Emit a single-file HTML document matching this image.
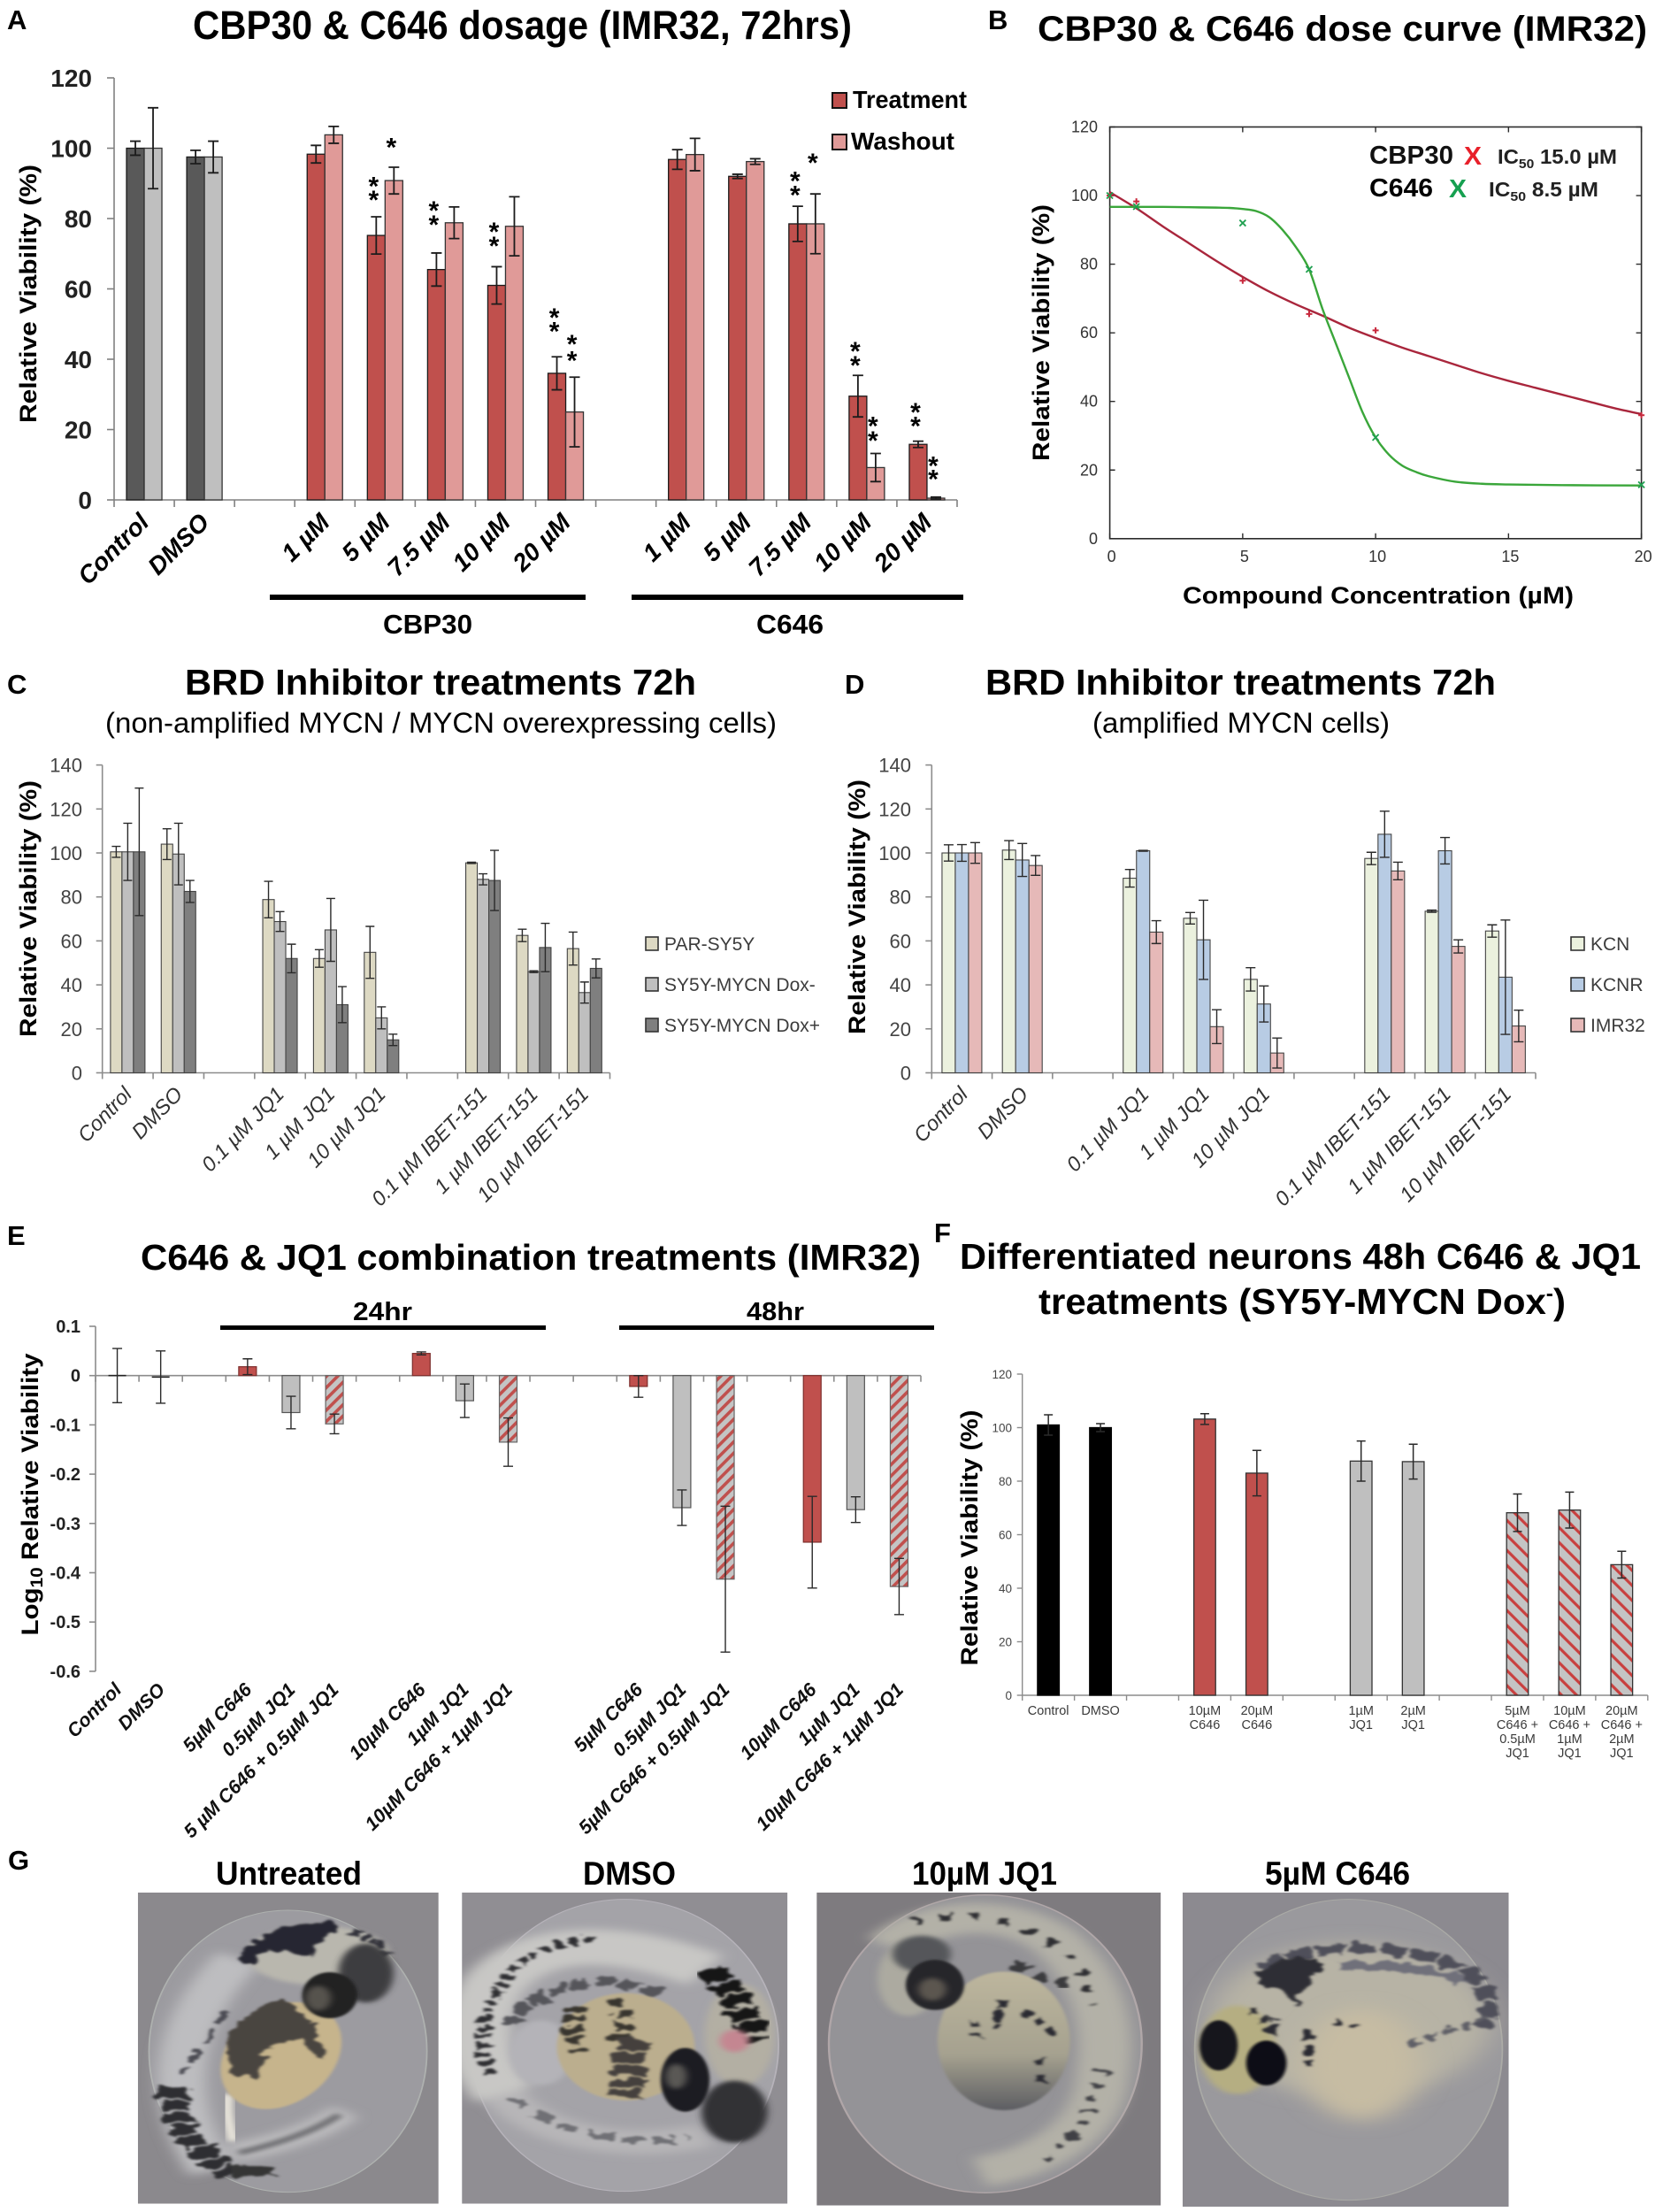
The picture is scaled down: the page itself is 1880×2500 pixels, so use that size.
<!DOCTYPE html>
<html lang="en">
<head>
<meta charset="utf-8">
<title>CBP30, C646 and JQ1 viability figure</title>
<style>
html,body{margin:0;padding:0;background:#fff;}
svg{display:block;}
text{font-family:"Liberation Sans",Arial,sans-serif;fill:#000;}
.b{font-weight:bold;}
</style>
</head>
<body>
<svg id="fig" width="1880" height="2500" viewBox="0 0 1880 2500">
<defs>
  <pattern id="hatchE" width="9" height="9" patternUnits="userSpaceOnUse" patternTransform="rotate(45)">
    <rect width="9" height="9" fill="#c4c4c4"/><rect width="3.6" height="9" fill="#c0504d"/>
  </pattern>
  <pattern id="hatchF" width="12" height="12" patternUnits="userSpaceOnUse" patternTransform="rotate(-45)">
    <rect width="12" height="12" fill="#c4c4c4"/><rect width="3.2" height="12" fill="#c9403f"/>
  </pattern>
  <filter id="b2" x="-30%" y="-30%" width="160%" height="160%"><feGaussianBlur stdDeviation="3"/></filter>
  <filter id="b5" x="-30%" y="-30%" width="160%" height="160%"><feGaussianBlur stdDeviation="7"/></filter>
  <filter id="b12" x="-40%" y="-40%" width="180%" height="180%"><feGaussianBlur stdDeviation="14"/></filter>
  <filter id="b25" x="-50%" y="-50%" width="200%" height="200%"><feGaussianBlur stdDeviation="28"/></filter>
  <filter id="org" x="-30%" y="-30%" width="160%" height="160%">
    <feTurbulence type="fractalNoise" baseFrequency="0.035" numOctaves="2" seed="4" result="n"/>
    <feDisplacementMap in="SourceGraphic" in2="n" scale="42" xChannelSelector="R" yChannelSelector="G"/>
    <feGaussianBlur stdDeviation="3"/>
  </filter>
  <clipPath id="c1"><rect x="260" y="177" width="567" height="1055"/></clipPath>
  <clipPath id="c2"><rect x="871" y="177" width="614" height="1055"/></clipPath>
  <clipPath id="c3"><rect x="-28" y="177" width="649" height="1061"/></clipPath>
  <clipPath id="c4"><rect x="662" y="177" width="615" height="1065"/></clipPath>
  <linearGradient id="yolk3" x1="0" y1="0" x2="0" y2="1"><stop offset="0" stop-color="#bdb69d"/><stop offset=".6" stop-color="#a5a18f"/><stop offset="1" stop-color="#5c5d62"/></linearGradient>
</defs>

<!-- Panel letters -->
<text class="b" x="8" y="33" font-size="31">A</text>
<text class="b" x="1117" y="33" font-size="31">B</text>
<text class="b" x="8" y="784" font-size="31">C</text>
<text class="b" x="955" y="784" font-size="31">D</text>
<text class="b" x="8" y="1407" font-size="31">E</text>
<text class="b" x="1056" y="1404" font-size="31">F</text>
<text class="b" x="9" y="2113" font-size="31">G</text>

<!-- Panel A static text -->
<text class="b" x="218" y="44" font-size="45" textLength="745" lengthAdjust="spacingAndGlyphs">CBP30 &amp; C646 dosage (IMR32, 72hrs)</text>
<text class="b" transform="translate(41,332) rotate(-90)" text-anchor="middle" font-size="27" textLength="292" lengthAdjust="spacingAndGlyphs">Relative Viability (%)</text>
<rect x="941" y="105" width="16" height="17" fill="#c0504d" stroke="#111" stroke-width="2"/>
<text class="b" x="964" y="122" font-size="28" textLength="129" lengthAdjust="spacingAndGlyphs">Treatment</text>
<rect x="941" y="152" width="16" height="17" fill="#e09a98" stroke="#111" stroke-width="2"/>
<text class="b" x="962" y="169" font-size="28" textLength="117" lengthAdjust="spacingAndGlyphs">Washout</text>
<rect x="305" y="672" width="357" height="6" fill="#000"/>
<rect x="714" y="672" width="375" height="6" fill="#000"/>
<text class="b" x="433" y="716" font-size="31" textLength="101" lengthAdjust="spacingAndGlyphs">CBP30</text>
<text class="b" x="855" y="716" font-size="31" textLength="76" lengthAdjust="spacingAndGlyphs">C646</text>

<!-- Panel B static text -->
<text class="b" x="1173" y="46" font-size="40" textLength="689" lengthAdjust="spacingAndGlyphs">CBP30 &amp; C646 dose curve (IMR32)</text>
<text class="b" transform="translate(1186,376) rotate(-90)" text-anchor="middle" font-size="27" textLength="290" lengthAdjust="spacingAndGlyphs">Relative Viability (%)</text>
<text class="b" x="1337" y="682" font-size="27" textLength="442" lengthAdjust="spacingAndGlyphs">Compound Concentration (µM)</text>
<text class="b" x="1548" y="185" font-size="29" style="fill:#111" textLength="95" lengthAdjust="spacingAndGlyphs">CBP30</text>
<text class="b" x="1655" y="186" font-size="29" style="fill:#e8202a" textLength="20" lengthAdjust="spacingAndGlyphs">X</text>
<text class="b" x="1693" y="185" font-size="23" style="fill:#222" textLength="135" lengthAdjust="spacingAndGlyphs">IC<tspan font-size="15" dy="5">50</tspan><tspan dy="-5"> 15.0 µM</tspan></text>
<text class="b" x="1548" y="222" font-size="29" textLength="72" lengthAdjust="spacingAndGlyphs">C646</text>
<text class="b" x="1638" y="223" font-size="29" style="fill:#16a050" textLength="20" lengthAdjust="spacingAndGlyphs">X</text>
<text class="b" x="1683" y="222" font-size="23" style="fill:#222" textLength="124" lengthAdjust="spacingAndGlyphs">IC<tspan font-size="15" dy="5">50</tspan><tspan dy="-5"> 8.5 µM</tspan></text>

<!-- Panel C static text -->
<text class="b" x="209" y="785" font-size="41" textLength="578" lengthAdjust="spacingAndGlyphs">BRD Inhibitor treatments 72h</text>
<text x="119" y="828" font-size="32" textLength="759" lengthAdjust="spacingAndGlyphs">(non-amplified MYCN / MYCN overexpressing cells)</text>
<text class="b" transform="translate(41,1027) rotate(-90)" text-anchor="middle" font-size="27" textLength="290" lengthAdjust="spacingAndGlyphs">Relative Viability (%)</text>

<!-- Panel D static text -->
<text class="b" x="1114" y="785" font-size="41" textLength="577" lengthAdjust="spacingAndGlyphs">BRD Inhibitor treatments 72h</text>
<text x="1235" y="828" font-size="32" textLength="336" lengthAdjust="spacingAndGlyphs">(amplified MYCN cells)</text>
<text class="b" transform="translate(978,1025) rotate(-90)" text-anchor="middle" font-size="27" textLength="288" lengthAdjust="spacingAndGlyphs">Relative Viability (%)</text>

<!-- Panel E static text -->
<text class="b" x="159" y="1435" font-size="41" textLength="882" lengthAdjust="spacingAndGlyphs">C646 &amp; JQ1 combination treatments (IMR32)</text>
<text class="b" x="399" y="1492" font-size="29" textLength="67" lengthAdjust="spacingAndGlyphs">24hr</text>
<text class="b" x="844" y="1492" font-size="29" textLength="65" lengthAdjust="spacingAndGlyphs">48hr</text>
<rect x="249" y="1498" width="368" height="5" fill="#000"/>
<rect x="700" y="1498" width="356" height="5" fill="#000"/>
<text class="b" transform="translate(43,1689) rotate(-90)" text-anchor="middle" font-size="27" textLength="319" lengthAdjust="spacingAndGlyphs">Log<tspan font-size="19" dy="5">10</tspan><tspan dy="-5"> Relative Viability</tspan></text>

<!-- Panel F static text -->
<text class="b" x="1085" y="1434" font-size="41" textLength="770" lengthAdjust="spacingAndGlyphs">Differentiated neurons 48h C646 &amp; JQ1</text>
<text class="b" x="1174" y="1485" font-size="41" textLength="596" lengthAdjust="spacingAndGlyphs">treatments (SY5Y-MYCN Dox<tspan font-size="24" dy="-15">-</tspan><tspan dy="15">)</tspan></text>
<text class="b" transform="translate(1105,1738) rotate(-90)" text-anchor="middle" font-size="27" textLength="289" lengthAdjust="spacingAndGlyphs">Relative Viability (%)</text>

<g id="charts"></g>

<!-- Panel G: embryo micrographs, approximated with blurred shapes -->
<text class="b" x="244" y="2130" font-size="37" textLength="165" lengthAdjust="spacingAndGlyphs">Untreated</text>
<text class="b" x="659" y="2130" font-size="37" textLength="105" lengthAdjust="spacingAndGlyphs">DMSO</text>
<text class="b" x="1031" y="2130" font-size="37" textLength="164" lengthAdjust="spacingAndGlyphs">10µM JQ1</text>
<text class="b" x="1430" y="2130" font-size="37" textLength="164" lengthAdjust="spacingAndGlyphs">5µM C646</text>

<g transform="translate(0,2080) scale(0.5995,0.3333)" clip-path="url(#c1)">
  <rect x="260" y="177" width="567" height="1055" fill="#8b898d"/>
  <ellipse cx="543" cy="715" rx="262" ry="478" fill="#9c9ba0" stroke="#aeb1af" stroke-width="3"/>
  <g fill="none" filter="url(#b12)">
    <path d="M450 400C340 600 300 850 400 1120" stroke="#bdbdc0" stroke-width="90"/>
    <path d="M440 1060C520 1030 600 990 650 920" stroke="#c0bfc1" stroke-width="60"/>
  </g>
  <g fill="none" filter="url(#org)">
    <path d="M430 580C390 650 370 720 350 790" stroke="#4c4c52" stroke-width="16" stroke-dasharray="46 22"/>
    <path d="M325 840C320 950 370 1060 440 1130" stroke="#2f2e30" stroke-width="56" stroke-dasharray="34 8"/>
    <path d="M440 1120L520 1120" stroke="#353436" stroke-width="40"/>
  </g>
  <path d="M450 1060C520 1030 590 990 640 930" fill="none" stroke="#6d6d71" stroke-width="18" filter="url(#b5)"/>
  <path d="M430 860C425 930 435 980 440 1020" fill="none" stroke="#eeeadf" stroke-width="20" filter="url(#b5)"/>
  <ellipse cx="600" cy="390" rx="135" ry="100" fill="#b9b7ae" filter="url(#b5)"/>
  <path d="M442 410C480 310 560 268 640 282C625 340 590 340 590 400C540 350 490 370 470 430Z" fill="#272830" filter="url(#org)"/>
  <path d="M660 310C690 320 715 350 730 390" stroke="#33333a" stroke-width="30" stroke-dasharray="22 8" fill="none" filter="url(#org)"/>
  <ellipse cx="690" cy="450" rx="52" ry="100" fill="#3c3c41" filter="url(#b5)"/>
  <ellipse cx="530" cy="730" rx="108" ry="185" transform="rotate(14 530 730)" fill="#c6b48c" filter="url(#b2)"/>
  <path d="M425 690C445 600 505 535 550 550C590 600 600 650 612 740L590 725L565 660L500 710L490 810L440 790Z" fill="#48443f" filter="url(#org)"/>
  <ellipse cx="622" cy="525" rx="52" ry="78" fill="#222224" filter="url(#b2)"/>
  <ellipse cx="600" cy="535" rx="24" ry="42" fill="#57534d" filter="url(#b5)"/>
</g>

<g transform="translate(0,2080) scale(0.5995,0.3333)" clip-path="url(#c2)">
  <rect x="871" y="177" width="614" height="1055" fill="#908e93"/>
  <ellipse cx="1178" cy="695" rx="290" ry="495" fill="#a4a3a8" stroke="#b6b3ba" stroke-width="3"/>
  <g fill="none" filter="url(#b12)">
    <path d="M1330 440C1150 320 1000 340 930 490C885 620 900 760 950 860" stroke="#c8c7c5" stroke-width="120"/>
    <path d="M950 860C1010 1000 1180 1060 1330 1000" stroke="#b7b6b8" stroke-width="80"/>
  </g>
  <ellipse cx="1020" cy="720" rx="60" ry="110" fill="#b4b3b8" filter="url(#b5)"/>
  <g fill="none" filter="url(#org)">
    <path d="M1120 335C1010 350 950 430 925 560C900 680 905 740 925 800" stroke="#2d2d31" stroke-width="24" stroke-dasharray="18 12"/>
    <path d="M1240 520C1130 440 1020 490 960 620" stroke="#55555a" stroke-width="34" stroke-dasharray="36 10"/>
    <path d="M965 870C1030 980 1170 1040 1300 1010" stroke="#707074" stroke-width="22" stroke-dasharray="44 20"/>
  </g>
  <ellipse cx="1180" cy="700" rx="130" ry="182" fill="#bbae8e" filter="url(#b2)"/>
  <g fill="none" filter="url(#org)">
    <path d="M1090 560C1070 620 1080 680 1090 720" stroke="#37342f" stroke-width="34" stroke-dasharray="24 12"/>
    <path d="M1160 540C1180 600 1190 640 1150 690" stroke="#37342f" stroke-width="30" stroke-dasharray="26 14"/>
    <path d="M1200 680C1180 740 1190 800 1180 870" stroke="#45413c" stroke-width="60" stroke-dasharray="34 8"/>
  </g>
  <ellipse cx="1395" cy="660" rx="66" ry="175" fill="#b3afa3" filter="url(#b5)"/>
  <path d="M1340 440C1385 520 1410 600 1425 680" fill="none" stroke="#131315" stroke-width="60" stroke-dasharray="38 10" filter="url(#org)"/>
  <ellipse cx="1385" cy="680" rx="28" ry="38" fill="#c48691" filter="url(#b5)"/>
  <ellipse cx="1385" cy="920" rx="62" ry="105" fill="#323235" filter="url(#b5)"/>
  <ellipse cx="1292" cy="812" rx="46" ry="108" fill="#1f1f22" filter="url(#b2)"/>
  <ellipse cx="1275" cy="800" rx="20" ry="42" fill="#5a5854" filter="url(#b5)"/>
</g>

<g transform="translate(940,2080) scale(0.5995,0.3333)" clip-path="url(#c3)">
  <rect x="-28" y="177" width="649" height="1061" fill="#7e7b7f"/>
  <ellipse cx="290" cy="690" rx="295" ry="505" fill="#949397" stroke="#b0a6a8" stroke-width="4"/>
  <path d="M110 360C200 230 340 240 420 340C510 480 525 650 510 800C505 950 430 1080 280 1125" fill="none" stroke="#b3b1a7" stroke-width="100" filter="url(#b12)"/>
  <path d="M150 280C240 230 340 260 420 350C480 440 490 520 490 560" fill="none" stroke="#2e2e33" stroke-width="26" stroke-dasharray="18 40" filter="url(#org)"/>
  <path d="M345 420C400 470 430 500 440 470" fill="none" stroke="#3a3a3e" stroke-width="28" stroke-dasharray="30 20" filter="url(#org)"/>
  <path d="M510 780C490 900 470 1010 400 1080" fill="none" stroke="#3f3f44" stroke-width="22" stroke-dasharray="16 28" filter="url(#org)"/>
  <ellipse cx="145" cy="470" rx="58" ry="125" fill="#acaaa0" filter="url(#b5)"/>
  <ellipse cx="170" cy="385" rx="55" ry="62" fill="#55565a" filter="url(#b5)"/>
  <ellipse cx="325" cy="680" rx="125" ry="235" fill="url(#yolk3)" filter="url(#b2)"/>
  <g fill="none" stroke="#2b2b30" stroke-width="18" filter="url(#org)">
    <path d="M320 540L310 650" stroke-dasharray="30 8"/>
    <path d="M360 580L420 650" stroke-dasharray="22 14"/>
    <path d="M270 610L270 700" stroke-dasharray="16 30"/>
    <path d="M390 740L400 830" stroke-dasharray="24 30"/>
  </g>
  <ellipse cx="195" cy="490" rx="55" ry="85" fill="#28282a" filter="url(#b2)"/>
  <ellipse cx="190" cy="505" rx="26" ry="38" fill="#5c5750" filter="url(#b5)"/>
</g>

<g transform="translate(940,2080) scale(0.5995,0.3333)" clip-path="url(#c4)">
  <rect x="662" y="177" width="615" height="1065" fill="#8c8a90"/>
  <ellipse cx="975" cy="710" rx="290" ry="510" fill="#9a999d" stroke="#aaaaa6" stroke-width="3"/>
  <ellipse cx="980" cy="610" rx="265" ry="260" fill="#b7b3a5" filter="url(#b25)"/>
  <ellipse cx="1000" cy="760" rx="110" ry="190" fill="#c6bca3" filter="url(#b25)"/>
  <g fill="none" filter="url(#org)">
    <path d="M810 430C900 350 1050 340 1190 430C1240 500 1250 590 1230 640" stroke="#50505a" stroke-width="34" stroke-dasharray="50 10"/>
    <path d="M960 430C1040 420 1130 430 1190 480" stroke="#6f6f7a" stroke-width="28"/>
    <path d="M1240 600C1180 640 1130 660 1080 700" stroke="#5f5f66" stroke-width="18" stroke-dasharray="24 14"/>
  </g>
  <path d="M800 450C850 390 910 380 930 420C900 480 880 520 880 560C860 520 830 490 800 480Z" fill="#2d2d36" filter="url(#org)"/>
  <ellipse cx="765" cy="710" rx="72" ry="150" fill="#b5ae82" filter="url(#b5)"/>
  <g fill="none" stroke="#2a2a30" stroke-width="18" filter="url(#org)">
    <path d="M790 570L830 640L830 600" stroke-dasharray="18 20"/>
    <path d="M900 640L900 770" stroke-dasharray="40 12"/>
    <path d="M950 610L1000 640" stroke-dasharray="12 26"/>
  </g>
  <ellipse cx="730" cy="695" rx="36" ry="85" fill="#18181a" filter="url(#b2)"/>
  <ellipse cx="820" cy="755" rx="38" ry="76" fill="#111113" filter="url(#b2)"/>
</g>

<script>
const NS = document.getElementById('fig').namespaceURI;
const charts = document.getElementById('charts');

/* ---------- Panel A data ---------- */
const aCategories = ['Control','DMSO','','1 µM','5 µM','7.5 µM','10 µM','20 µM','','1 µM','5 µM','7.5 µM','10 µM','20 µM'];
const aTreatment = [100,97.5,null,98.3,75.2,65.5,61,36,null,96.8,92,78.5,29.5,15.8];
const aTreatmentErr = [2,1.9,null,2.5,5.3,4.7,5.3,4.7,null,2.8,0.6,5,5.9,0.9];
const aWashout = [100,97.5,null,103.8,90.8,78.8,77.8,25,null,98.2,96.2,78.5,9.2,0.5];
const aWashoutErr = [11.5,4.5,null,2.4,3.8,4.5,8.4,9.9,null,4.6,0.8,8.5,4,0.3];
const aTicks = [0,20,40,60,80,100,120];
/* star markers: category index, series index, height in axis units */
const aStars = [[4,0,91],[4,0,87],[4,1,102],[5,0,84],[5,0,80],[6,0,78],[6,0,74],[7,0,53.6],[7,0,49.7],[7,1,46],[7,1,41.4],[11,0,92.5],[11,0,88.4],[11,1,97.6],[12,0,44],[12,0,40],[12,1,22.8],[12,1,18.6],[13,0,26.7],[13,0,22.8],[13,1,11.5],[13,1,7.7]];

/* ---------- Panel B data ---------- */
const bTicksX = [0,5,10,15,20];
const bTicksY = [0,20,40,60,80,100,120];
const bCbpCurveX = [0,1,2,3,4,5,6,7,8,9,10,11,12,13,14,15,16,17,18,19,20];
const bCbpCurveY = [101,96.3,91,86,81,76.3,72,68.3,65,61.5,58.5,55.7,53.2,50.7,48.2,46,44,42,40,38,36.3];
const bC646CurveX = [0,1,2,3,4,4.5,5,5.5,6,6.5,7,7.5,8,8.5,9,9.5,10,10.5,11,11.5,12,13,14,15,17,20];
const bC646CurveY = [96.7,96.7,96.7,96.6,96.5,96.4,96.1,95.5,93.7,90,85,78.5,67,57,47,37,29.5,24.5,21.3,19.5,18.2,16.6,16,15.8,15.6,15.5];
const bCbpDoseX = [0,1,5,7.5,10,20];
const bCbpDoseY = [100,98.3,75.2,65.5,60.7,36];
const bC646DoseX = [0,1,5,7.5,10,20];
const bC646DoseY = [100,96.8,92,78.5,29.5,15.7];

/* ---------- Panel C data ---------- */
const cCategories = ['Control','DMSO','','0.1 µM JQ1','1 µM JQ1','10 µM JQ1','','0.1 µM IBET-151','1 µM IBET-151','10 µM IBET-151'];
const cPar = [100.5,104,null,78.8,52,54.8,null,95.5,62.5,56.5];
const cParErr = [2.5,7,null,8.3,4,11.8,null,0.3,2.8,7.5];
const cDoxMinus = [100.5,99.5,null,68.8,65,25,null,88,46,36.5];
const cDoxMinusErr = [13,14,null,4.5,14.3,5,null,2.5,0.4,4.8];
const cDoxPlus = [100.5,82.5,null,52,31,15,null,87.5,57,47.5];
const cDoxPlusErr = [29,5,null,6.5,8.2,2.6,null,13.7,11,4.3];
const cTicks = [0,20,40,60,80,100,120,140];

/* ---------- Panel D data ---------- */
const dCategories = ['Control','DMSO','','0.1 µM JQ1','1 µM JQ1','10 µM JQ1','','0.1 µM IBET-151','1 µM IBET-151','10 µM IBET-151'];
const dKcn = [100,101.3,null,88.5,70.3,42.5,null,97.5,73.5,64.5];
const dKcnErr = [3.7,4.3,null,4,2.6,5.3,null,2.8,0.5,2.8];
const dKcnr = [100,96.8,null,101,60.5,31.3,null,108.5,101,43.5];
const dKcnrErr = [3.8,7.5,null,0.2,18,8.2,null,10.5,6,26];
const dImr = [100,94.3,null,64,21,9,null,91.8,57.5,21.3];
const dImrErr = [4.7,4.5,null,5.2,7.7,6.8,null,4,3,7.2];
const dTicks = [0,20,40,60,80,100,120,140];

/* ---------- Panel E data ---------- */
const eCategories = ['Control','DMSO','','5µM C646','0.5µM JQ1','5 µM C646 + 0.5µM JQ1','','10µM C646','1µM JQ1','10µM C646 +  1µM JQ1','','','5µM C646','0.5µM JQ1','5µM C646 + 0.5µM JQ1','','10µM C646','1µM JQ1','10µM C646 + 1µM JQ1'];
const eValues = [0,-0.003,null,0.018,-0.075,-0.098,null,0.045,-0.051,-0.135,null,null,-0.022,-0.268,-0.413,null,-0.338,-0.272,-0.428];
const eErrors = [0.055,0.053,null,0.016,0.033,0.02,null,0.003,0.034,0.049,null,null,0.022,0.036,0.148,null,0.093,0.026,0.057];
const eKinds = ['none','none','','c646','jq1','combo','','c646','jq1','combo','','','c646','jq1','combo','','c646','jq1','combo'];
const eTicks = ['0.1','0','-0.1','-0.2','-0.3','-0.4','-0.5','-0.6'];

/* ---------- Panel F data ---------- */
const fCategories = [['Control'],['DMSO'],[],['10µM','C646'],['20µM','C646'],[],['1µM','JQ1'],['2µM','JQ1'],[],['5µM','C646 +','0.5µM','JQ1'],['10µM','C646 +','1µM','JQ1'],['20µM','C646 +','2µM','JQ1']];
const fValues = [101,100,null,103.2,83,null,87.5,87.3,null,68.2,69.2,48.8];
const fErrors = [3.8,1.5,null,2,8.5,null,7.5,6.5,null,7,6.7,5];
const fKinds = ['ctrl','ctrl','','c646','c646','','jq1','jq1','','combo','combo','combo'];
const fTicks = [0,20,40,60,80,100,120];

/* ---------- helpers ---------- */
function mk(tag, attrs, parent) {
  const el = document.createElementNS(NS, tag);
  for (const k in attrs) el.setAttribute(k, attrs[k]);
  parent.appendChild(el);
  return el;
}
function slug(s) {
  return String(s).toLowerCase().replace(/µ/g, 'u').replace(/[^a-z0-9]+/g, '-').replace(/^-|-$/g, '');
}
function newGroup(name) {
  const g = mk('g', {}, charts);
  
  
  return g;
}
function valueScale(o) {
  return function (v) { return o.yZero - (v / o.vTop) * (o.yZero - o.yTop); };
}
function drawYAxis(g, labels, o) {
  const y = valueScale(o);
  const axis = mk('line', {x1: o.x0, x2: o.x0, y1: o.yTop, y2: o.yEnd === undefined ? o.yZero : o.yEnd, stroke: o.axisColor, 'stroke-width': o.axisW}, g);
  
  
  labels.forEach(function (lab) {
    const yy = y(parseFloat(lab));
    mk('line', {x1: o.x0 - o.tickLen, x2: o.x0, y1: yy, y2: yy, stroke: o.axisColor, 'stroke-width': o.axisW}, g);
    const t = mk('text', {x: o.labelRight, y: yy + o.labelDy, 'text-anchor': 'end', 'font-size': o.labelSize, 'font-weight': o.labelWeight, style: 'fill:' + o.labelColor}, g);
    t.textContent = lab;
    
    
  });
}
function drawXAxis(g, count, o) {
  const slot = (o.x1 - o.x0) / count;
  const axis = mk('line', {x1: o.x0, x2: o.x1, y1: o.yZero, y2: o.yZero, stroke: o.axisColor, 'stroke-width': o.axisW}, g);
  
  
  for (let i = 0; i <= count; i++) {
    const xx = o.x0 + slot * i;
    mk('line', {x1: xx, x2: xx, y1: o.yZero, y2: o.yZero + o.tickLen, stroke: o.axisColor, 'stroke-width': o.axisW}, g);
  }
}
function drawError(g, cx, hi, lo, o) {
  const er = mk('path', {d: 'M' + cx + ' ' + hi + 'V' + lo + 'M' + (cx - o.cap) + ' ' + hi + 'H' + (cx + o.cap) + 'M' + (cx - o.cap) + ' ' + lo + 'H' + (cx + o.cap), fill: 'none', stroke: o.errColor, 'stroke-width': o.errW}, g);
  
  
}
function drawGroupedBars(g, cats, series, o) {
  const y = valueScale(o);
  const slot = (o.x1 - o.x0) / cats.length;
  const n = series.length;
  cats.forEach(function (cat, i) {
    series.forEach(function (s, j) {
      const v = s.values[i];
      if (v === null) return;
      const x = o.x0 + slot * (i + 0.5) + (j - n / 2) * o.barW;
      const r = mk('rect', {x: x, y: y(v), width: o.barW, height: y(0) - y(v), fill: s.fills ? s.fills[i] : s.fill, stroke: s.strokes ? s.strokes[i] : s.stroke, 'stroke-width': o.barStroke}, g);
      
      
    });
    series.forEach(function (s, j) {
      const v = s.values[i];
      if (v === null) return;
      const cx = o.x0 + slot * (i + 0.5) + (j - n / 2 + 0.5) * o.barW;
      drawError(g, cx, y(v + s.errs[i]), y(v - s.errs[i]), o);
    });
  });
}
function drawRotLabels(g, cats, o) {
  const slot = (o.x1 - o.x0) / cats.length;
  cats.forEach(function (cat, i) {
    if (!cat) return;
    const x = o.x0 + slot * (i + 0.5) + o.lblDx;
    const t = mk('text', {x: x, y: o.lblY, 'text-anchor': 'end', 'font-size': o.lblSize, 'font-weight': o.lblWeight, 'font-style': 'italic', style: 'fill:' + o.lblColor, transform: 'rotate(-' + o.lblAngle + ' ' + x + ' ' + o.lblY + ')'}, g);
    t.textContent = cat;
    
    
  });
}
function drawLegend(g, names, fills, o) {
  names.forEach(function (name, i) {
    const sw = mk('rect', {x: o.x, y: o.ys[i] - 15, width: o.w, height: 15, fill: fills[i], stroke: '#333', 'stroke-width': 1.6}, g);
    
    
    const t = mk('text', {x: o.tx, y: o.ys[i], 'font-size': 21, style: 'fill:#3c3c3c'}, g);
    t.textContent = name;
    
    
  });
}
/* Smooth Catmull-Rom path through the screen points of a curve */
function smoothPath(p) {
  let d = 'M' + p[0][0] + ' ' + p[0][1];
  for (let i = 0; i < p.length - 1; i++) {
    const a = p[Math.max(i - 1, 0)], b = p[i], c = p[i + 1], e = p[Math.min(i + 2, p.length - 1)];
    d += 'C' + (b[0] + (c[0] - a[0]) / 6) + ' ' + (b[1] + (c[1] - a[1]) / 6) + ' ' + (c[0] - (e[0] - b[0]) / 6) + ' ' + (c[1] - (e[1] - b[1]) / 6) + ' ' + c[0] + ' ' + c[1];
  }
  return d;
}

/* ---------- Panel A ---------- */
(function () {
  const g = newGroup('panel-a-bar-chart');
  const o = {x0: 129, x1: 1082, yTop: 88, yZero: 565, vTop: 120, barW: 20, barStroke: 1.3, cap: 6, errColor: '#1c1c1c', errW: 1.8,
    axisColor: '#808080', axisW: 1.6, tickLen: 8, labelRight: 104, labelDy: 10, labelSize: 28, labelWeight: 'bold', labelColor: '#222',
    lblDx: 7, lblY: 592, lblSize: 28, lblWeight: 'bold', lblColor: '#000', lblAngle: 45};
  drawXAxis(g, aCategories.length, o);
  drawYAxis(g, aTicks.map(String), o);
  const trtFills = aCategories.map(function (c, i) { return i < 2 ? '#595959' : '#c0504d'; });
  const washFills = aCategories.map(function (c, i) { return i < 2 ? '#bfbfbf' : '#e09a98'; });
  drawGroupedBars(g, aCategories, [
    {name: 'treatment', values: aTreatment, errs: aTreatmentErr, fills: trtFills, stroke: '#1a1a1a'},
    {name: 'washout', values: aWashout, errs: aWashoutErr, fills: washFills, stroke: '#333'}
  ], o);
  drawRotLabels(g, aCategories, o);
  const y = valueScale(o);
  const slot = (o.x1 - o.x0) / aCategories.length;
  aStars.forEach(function (s) {
    const x = o.x0 + slot * (s[0] + 0.5) + (s[1] === 0 ? -o.barW / 2 - 3 : o.barW / 2 - 3);
    const t = mk('text', {x: x, y: y(s[2]) + 17, 'text-anchor': 'middle', 'font-size': 30, 'font-weight': 'bold'}, g);
    t.textContent = '*';
    
    
  });
})();

/* ---------- Panel B ---------- */
(function () {
  const g = newGroup('panel-b-dose-curve');
  const L = 1254.6, R = 1855.6, T = 143.5, B = 608.8;
  const sx = function (v) { return L + (v / 20) * (R - L); };
  const sy = function (v) { return B - (v / 120) * (B - T); };
  const frame = mk('rect', {x: L, y: T, width: R - L, height: B - T, fill: 'none', stroke: '#2b2b2b', 'stroke-width': 1.6}, g);
  
  
  bTicksX.forEach(function (v) {
    mk('path', {d: 'M' + sx(v) + ' ' + B + 'v-6M' + sx(v) + ' ' + T + 'v6', stroke: '#2b2b2b', 'stroke-width': 1.4, fill: 'none'}, g);
    const t = mk('text', {x: sx(v) + 2, y: 635, 'text-anchor': 'middle', 'font-size': 18, style: 'fill:#333'}, g);
    t.textContent = v;
    
    
  });
  bTicksY.forEach(function (v) {
    mk('path', {d: 'M' + L + ' ' + sy(v) + 'h6M' + R + ' ' + sy(v) + 'h-6', stroke: '#2b2b2b', 'stroke-width': 1.4, fill: 'none'}, g);
    const t = mk('text', {x: 1241, y: sy(v) + 6, 'text-anchor': 'end', 'font-size': 18, style: 'fill:#333'}, g);
    t.textContent = v;
    
    
  });
  function pts(xs, ys) { return xs.map(function (x, i) { return [sx(x), sy(ys[i])]; }); }
  const red = mk('path', {d: smoothPath(pts(bCbpCurveX, bCbpCurveY)), fill: 'none', stroke: '#a9263c', 'stroke-width': 2.4}, g);
  
  
  const green = mk('path', {d: smoothPath(pts(bC646CurveX, bC646CurveY)), fill: 'none', stroke: '#3aa63a', 'stroke-width': 2.4}, g);
  
  
  bCbpDoseX.forEach(function (x, i) {
    const cx = sx(x), cy = sy(bCbpDoseY[i]);
    const m = mk('path', {d: 'M' + (cx - 3.5) + ' ' + cy + 'h7M' + cx + ' ' + (cy - 3.5) + 'v7', stroke: '#c8283c', 'stroke-width': 2, fill: 'none'}, g);
    
    
  });
  bC646DoseX.forEach(function (x, i) {
    const cx = sx(x), cy = sy(bC646DoseY[i]);
    const m = mk('path', {d: 'M' + (cx - 3.5) + ' ' + (cy - 3.5) + 'l7 7M' + (cx + 3.5) + ' ' + (cy - 3.5) + 'l-7 7', stroke: '#1fa050', 'stroke-width': 1.8, fill: 'none'}, g);
    
    
  });
})();

/* ---------- Panel C ---------- */
(function () {
  const g = newGroup('panel-c-bar-chart');
  const o = {x0: 115.7, x1: 689.5, yTop: 864.6, yZero: 1212.5, vTop: 140, barW: 13, barStroke: 1.1, cap: 5, errColor: '#2a2a2a', errW: 1.4,
    axisColor: '#8c8c8c', axisW: 1.6, tickLen: 7, labelRight: 93, labelDy: 8, labelSize: 22, labelWeight: 'normal', labelColor: '#444',
    lblDx: 6, lblY: 1238, lblSize: 23.5, lblWeight: 'normal', lblColor: '#333', lblAngle: 46};
  drawXAxis(g, cCategories.length, o);
  drawYAxis(g, cTicks.map(String), o);
  drawGroupedBars(g, cCategories, [
    {name: 'par-sy5y', values: cPar, errs: cParErr, fill: '#ddd9c3', stroke: '#444'},
    {name: 'dox-minus', values: cDoxMinus, errs: cDoxMinusErr, fill: '#bfbfbf', stroke: '#444'},
    {name: 'dox-plus', values: cDoxPlus, errs: cDoxPlusErr, fill: '#7f7f7f', stroke: '#444'}
  ], o);
  drawRotLabels(g, cCategories, o);
  drawLegend(g, ['PAR-SY5Y', 'SY5Y-MYCN Dox-', 'SY5Y-MYCN Dox+'], ['#ddd9c3', '#bfbfbf', '#7f7f7f'], {x: 730, w: 14, tx: 751, ys: [1074, 1120, 1166]});
})();

/* ---------- Panel D ---------- */
(function () {
  const g = newGroup('panel-d-bar-chart');
  const o = {x0: 1053.3, x1: 1736, yTop: 864.6, yZero: 1212.5, vTop: 140, barW: 15, barStroke: 1.1, cap: 5.5, errColor: '#2a2a2a', errW: 1.4,
    axisColor: '#8c8c8c', axisW: 1.6, tickLen: 7, labelRight: 1030, labelDy: 8, labelSize: 22, labelWeight: 'normal', labelColor: '#444',
    lblDx: 8, lblY: 1238, lblSize: 23.5, lblWeight: 'normal', lblColor: '#333', lblAngle: 46};
  drawXAxis(g, dCategories.length, o);
  drawYAxis(g, dTicks.map(String), o);
  drawGroupedBars(g, dCategories, [
    {name: 'kcn', values: dKcn, errs: dKcnErr, fill: '#ebf1de', stroke: '#444'},
    {name: 'kcnr', values: dKcnr, errs: dKcnrErr, fill: '#b8cce4', stroke: '#444'},
    {name: 'imr32', values: dImr, errs: dImrErr, fill: '#e6b9b8', stroke: '#444'}
  ], o);
  drawRotLabels(g, dCategories, o);
  drawLegend(g, ['KCN', 'KCNR', 'IMR32'], ['#ebf1de', '#b8cce4', '#e6b9b8'], {x: 1776, w: 15, tx: 1798, ys: [1074, 1120, 1166]});
})();

/* ---------- Panel E ---------- */
(function () {
  const g = newGroup('panel-e-bar-chart');
  const o = {x0: 108, x1: 1041, yTop: 1499, yZero: 1554.7, yEnd: 1889, vTop: 0.1, cap: 5.5, errColor: '#2a2a2a', errW: 1.4,
    axisColor: '#8c8c8c', axisW: 1.6, tickLen: 7, labelRight: 91, labelDy: 7, labelSize: 20, labelWeight: 'bold', labelColor: '#222',
    lblDx: 6, lblY: 1911, lblSize: 21.5, lblWeight: 'bold', lblColor: '#111', lblAngle: 45};
  const y = valueScale(o);
  const fill = {c646: '#c0504d', jq1: '#bfbfbf', combo: 'url(#hatchE)', none: '#222'};
  const edge = {c646: '#7d2e2c', jq1: '#555', combo: '#666', none: '#222'};
  drawXAxis(g, eCategories.length, o);
  drawYAxis(g, eTicks, o);
  const slot = (o.x1 - o.x0) / eCategories.length;
  eCategories.forEach(function (c, i) {
    const v = eValues[i];
    if (v === null) return;
    const cx = o.x0 + slot * (i + 0.5);
    if (eKinds[i] !== 'none') {
      const r = mk('rect', {x: cx - 10, y: Math.min(y(0), y(v)), width: 20, height: Math.abs(y(v) - y(0)), fill: fill[eKinds[i]], stroke: edge[eKinds[i]], 'stroke-width': 1.2}, g);
      
      
    } else {
      mk('line', {x1: cx - 10, x2: cx + 10, y1: y(v), y2: y(v), stroke: '#222', 'stroke-width': 1.6}, g);
    }
    drawError(g, cx, y(v + eErrors[i]), y(v - eErrors[i]), o);
  });
  drawRotLabels(g, eCategories, o);
})();

/* ---------- Panel F ---------- */
(function () {
  const g = newGroup('panel-f-bar-chart');
  const o = {x0: 1155.7, x1: 1862.8, yTop: 1553, yZero: 1916, vTop: 120, cap: 5, errColor: '#2a2a2a', errW: 1.5,
    axisColor: '#8c8c8c', axisW: 1.4, tickLen: 6, labelRight: 1144, labelDy: 5, labelSize: 13.5, labelWeight: 'normal', labelColor: '#444'};
  const y = valueScale(o);
  const fill = {ctrl: '#000', c646: '#c0504d', jq1: '#bfbfbf', combo: 'url(#hatchF)'};
  const edge = {ctrl: '#000', c646: '#333', jq1: '#333', combo: '#333'};
  drawXAxis(g, fCategories.length, o);
  drawYAxis(g, fTicks.map(String), o);
  const slot = (o.x1 - o.x0) / fCategories.length;
  fCategories.forEach(function (lines, i) {
    const v = fValues[i];
    if (v === null) return;
    const cx = o.x0 + slot * (i + 0.5);
    const r = mk('rect', {x: cx - 12.3, y: y(v), width: 24.6, height: y(0) - y(v), fill: fill[fKinds[i]], stroke: edge[fKinds[i]], 'stroke-width': 1.3}, g);
    
    
    drawError(g, cx, y(v + fErrors[i]), y(v - fErrors[i]), o);
    lines.forEach(function (line, k) {
      const t = mk('text', {x: cx, y: 1938 + k * 16, 'text-anchor': 'middle', 'font-size': 14.5, style: 'fill:#3a3a3a'}, g);
      t.textContent = line;
      
      
    });
  });
})();
</script>
</svg>
</body>
</html>
